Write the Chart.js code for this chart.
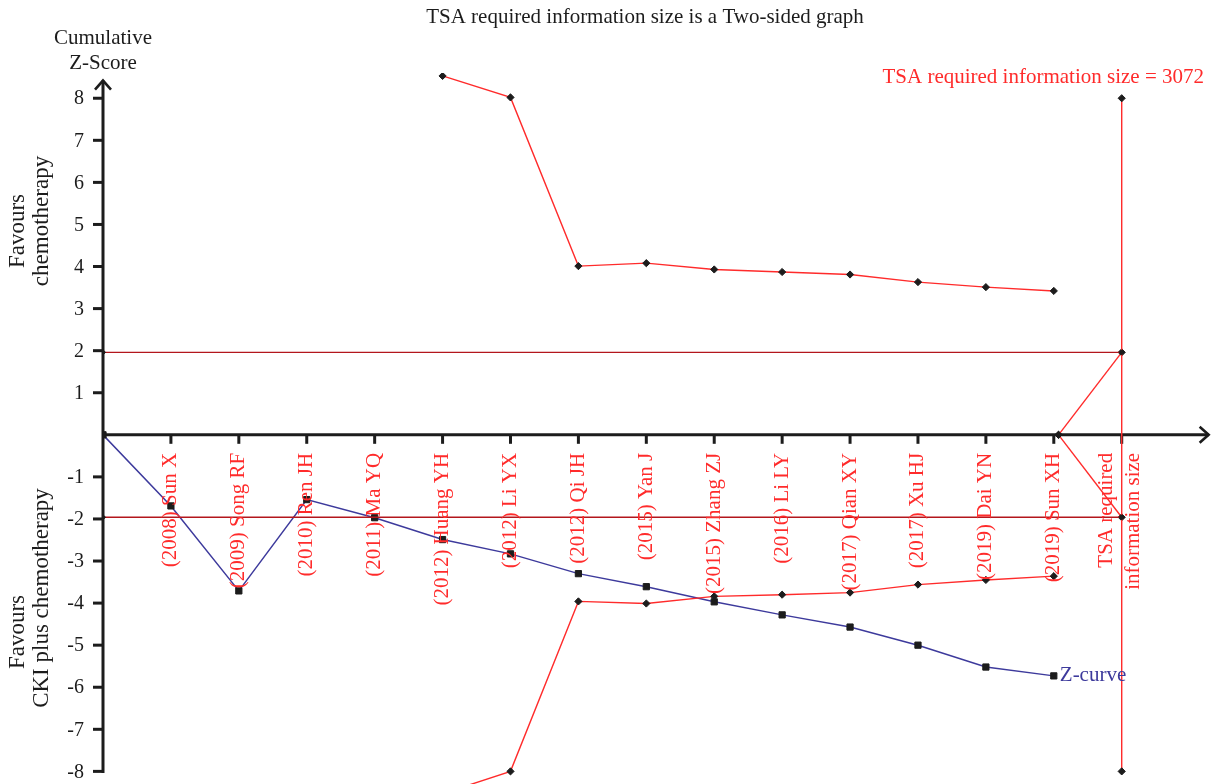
<!DOCTYPE html>
<html>
<head>
<meta charset="utf-8">
<title>TSA required information size is a Two-sided graph</title>
<script src="https://cdn.jsdelivr.net/npm/chart.js@4.4.1/dist/chart.umd.min.js"></script>
<style>
  html, body { margin: 0; padding: 0; background: #ffffff; }
  canvas { display: block; }
</style>
</head>
<body>
<canvas id="tsa" width="1216" height="784"></canvas>
<script>
// Trials, in order of accumulation along the information axis
const studies = [
  '(2008) Sun X', '(2009) Song RF', '(2010) Ren JH', '(2011) Ma YQ',
  '(2012) Huang YH', '(2012) Li YX', '(2012) Qi JH', '(2015) Yan J',
  '(2015) Zhang ZJ', '(2016) Li LY', '(2017) Qian XY', '(2017) Xu HJ',
  '(2019) Dai YN', '(2019) Sun XH'
];
const risLabel = ['TSA required', 'information size'];

// Cumulative Z-curve (first value is the origin)
const zCurve = [0, -1.69, -3.71, -1.54, -1.97, -2.49, -2.83, -3.30, -3.61, -3.97, -4.28, -4.57, -5.00, -5.52, -5.73];

// Trial sequential monitoring boundaries, from Huang YH (position 5) onward
const boundaryStart = 5;
const upperBoundary = [8.53, 8.02, 4.01, 4.08, 3.93, 3.87, 3.81, 3.63, 3.51, 3.42];
const lowerBoundary = [-8.53, -8.00, -3.96, -4.01, -3.84, -3.80, -3.75, -3.56, -3.45, -3.36];

// Boundary segment running to the required information size
const tailStartX = 14.07;
const risX = 15;
const conventionalZ = 1.96;
const risBoundEnds = [8, -8];

// Y axis ticks
const yTicks = [8, 7, 6, 5, 4, 3, 2, 1, -1, -2, -3, -4, -5, -6, -7, -8];

const SERIF = '"Liberation Serif", "DejaVu Serif", serif';
const TEXT_FONT = '21px ' + SERIF;
const CAPTION_FONT = '23px ' + SERIF;
const TICK_FONT = '20px ' + SERIF;
const RED = '#ff2b2b';
const DARK_RED = '#b3161c';
const NAVY = '#3d3a9c';
const INK = '#1c1c1c';

const pts = (vals, offset) => vals.map((v, i) => ({ x: i + offset, y: v }));

const diamond = {
  pointStyle: 'rectRot', pointRadius: 3.6, pointHoverRadius: 3.6,
  pointBackgroundColor: INK, pointBorderColor: INK, pointBorderWidth: 1
};

const datasets = [
  Object.assign({
    label: 'Conventional upper',
    data: [{ x: 0, y: conventionalZ }, { x: risX, y: conventionalZ }],
    borderColor: DARK_RED, borderWidth: 1.4
  }, diamond, { pointRadius: 2.5 }),
  Object.assign({
    label: 'Conventional lower',
    data: [{ x: 0, y: -conventionalZ }, { x: risX, y: -conventionalZ }],
    borderColor: DARK_RED, borderWidth: 1.4
  }, diamond, { pointRadius: 2.5 }),
  Object.assign({
    label: 'Required information size',
    data: [{ x: risX, y: risBoundEnds[0] }, { x: risX, y: risBoundEnds[1] }],
    borderColor: RED, borderWidth: 1.4
  }, diamond),
  Object.assign({
    label: 'Upper boundary',
    data: pts(upperBoundary, boundaryStart),
    borderColor: RED, borderWidth: 1.4
  }, diamond),
  Object.assign({
    label: 'Lower boundary',
    data: pts(lowerBoundary, boundaryStart),
    borderColor: RED, borderWidth: 1.4
  }, diamond),
  Object.assign({
    label: 'Upper tail',
    data: [{ x: tailStartX, y: 0 }, { x: risX, y: conventionalZ }],
    borderColor: RED, borderWidth: 1.4
  }, diamond),
  Object.assign({
    label: 'Lower tail',
    data: [{ x: tailStartX, y: 0 }, { x: risX, y: -conventionalZ }],
    borderColor: RED, borderWidth: 1.4
  }, diamond),
  {
    label: 'Z-curve',
    data: pts(zCurve, 0),
    borderColor: NAVY, borderWidth: 1.5,
    pointStyle: 'rect', pointRadius: 4.4, pointHoverRadius: 4.4,
    pointBackgroundColor: INK, pointBorderColor: INK, pointBorderWidth: 1
  }
];

// Axes with arrows, ticks and every label, drawn from the scales
const decorations = {
  id: 'decorations',
  beforeDatasetsDraw(chart) {
    const { ctx, scales: { x, y } } = chart;
    const x0 = x.getPixelForValue(0);
    const y0 = y.getPixelForValue(0);
    const yTop = y.getPixelForValue(8.42);
    const yBot = y.getPixelForValue(-8);
    const xEnd = x.getPixelForValue(16.28);
    ctx.save();
    ctx.strokeStyle = INK;
    ctx.lineWidth = 3;
    ctx.lineCap = 'butt';
    // vertical axis
    ctx.beginPath();
    ctx.moveTo(x0, yBot + 1.5);
    ctx.lineTo(x0, yTop);
    ctx.stroke();
    // horizontal axis
    ctx.beginPath();
    ctx.moveTo(x0, y0);
    ctx.lineTo(xEnd, y0);
    ctx.stroke();
    // arrow heads
    ctx.lineWidth = 2.6;
    ctx.lineJoin = 'miter';
    ctx.beginPath();
    ctx.moveTo(x0 - 8, yTop + 9);
    ctx.lineTo(x0, yTop);
    ctx.lineTo(x0 + 8, yTop + 9);
    ctx.stroke();
    ctx.beginPath();
    ctx.moveTo(xEnd - 9, y0 - 8);
    ctx.lineTo(xEnd, y0);
    ctx.lineTo(xEnd - 9, y0 + 8);
    ctx.stroke();
    // y ticks and labels
    ctx.lineWidth = 3;
    ctx.fillStyle = INK;
    ctx.font = TICK_FONT;
    ctx.textAlign = 'right';
    ctx.textBaseline = 'middle';
    yTicks.forEach(t => {
      const py = y.getPixelForValue(t);
      ctx.beginPath();
      ctx.moveTo(x0 - 10, py);
      ctx.lineTo(x0, py);
      ctx.stroke();
      ctx.fillText(String(t), x0 - 19, py + 1);
    });
    // x ticks
    for (let i = 1; i <= studies.length + 1; i++) {
      const px = x.getPixelForValue(i);
      ctx.beginPath();
      ctx.moveTo(px, y0);
      ctx.lineTo(px, y0 + 9);
      ctx.stroke();
    }
    ctx.restore();
  },
  afterDatasetsDraw(chart) {
    const { ctx, scales: { x, y } } = chart;
    const y0 = y.getPixelForValue(0);
    const x0 = x.getPixelForValue(0);
    ctx.save();
    // study labels, rotated, hanging below the axis
    ctx.fillStyle = RED;
    ctx.font = TEXT_FONT;
    ctx.textAlign = 'right';
    ctx.textBaseline = 'middle';
    studies.forEach((s, i) => {
      const px = x.getPixelForValue(i + 1);
      ctx.save();
      ctx.translate(px, y0 + 18);
      ctx.rotate(-Math.PI / 2);
      ctx.fillText(s, 0, 0);
      ctx.restore();
    });
    const pr = x.getPixelForValue(risX);
    [[risLabel[0], -15], [risLabel[1], 12]].forEach(([s, dx]) => {
      ctx.save();
      ctx.translate(pr + dx, y0 + 18);
      ctx.rotate(-Math.PI / 2);
      ctx.fillText(s, 0, 0);
      ctx.restore();
    });
    // required information size note
    ctx.textAlign = 'right';
    ctx.fillText('TSA required information size = 3072', 1204, 77);
    // Z-curve label next to its last point
    const last = zCurve.length - 1;
    ctx.fillStyle = NAVY;
    ctx.textAlign = 'left';
    ctx.fillText('Z-curve', x.getPixelForValue(last) + 6, y.getPixelForValue(zCurve[last]));
    // title and axis captions
    ctx.fillStyle = INK;
    ctx.textAlign = 'center';
    ctx.fillText('TSA required information size is a Two-sided graph', 645, 17);
    ctx.fillText('Cumulative', x0, 38);
    ctx.fillText('Z-Score', x0, 63);
    ctx.font = CAPTION_FONT;
    const vertical = (text, cx, cy) => {
      ctx.save();
      ctx.translate(cx, cy);
      ctx.rotate(-Math.PI / 2);
      ctx.fillText(text, 0, 0);
      ctx.restore();
    };
    vertical('Favours', 18, 231);
    vertical('chemotherapy', 42, 221);
    vertical('Favours', 18, 632);
    vertical('CKI plus chemotherapy', 42, 598);
    ctx.restore();
  }
};

new Chart(document.getElementById('tsa'), {
  type: 'scatter',
  data: { datasets },
  options: {
    responsive: false,
    animation: false,
    events: [],
    layout: { autoPadding: false, padding: { left: 103, right: 6, top: 73, bottom: 0 } },
    datasets: { scatter: { showLine: true, tension: 0 } },
    plugins: { legend: { display: false }, tooltip: { enabled: false } },
    scales: {
      x: { type: 'linear', min: 0, max: 16.3, display: false },
      y: { type: 'linear', min: -8.3, max: 8.6, display: false }
    }
  },
  plugins: [decorations]
});
</script>
</body>
</html>
